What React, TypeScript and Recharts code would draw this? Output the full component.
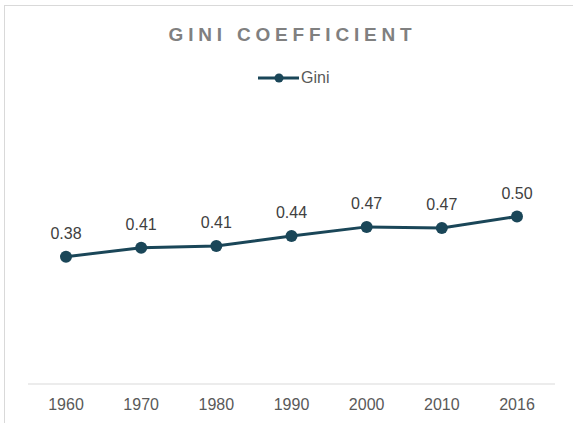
import { LineChart, Line, XAxis, YAxis, Legend, LabelList } from "recharts";

const years = ["1960", "1970", "1980", "1990", "2000", "2010", "2016"];
const gini = [0.38, 0.407, 0.412, 0.442, 0.469, 0.466, 0.5];

const data = years.map((year, i) => ({ year, gini: gini[i] }));

const LINE_COLOR = "#1a4658";
const FONT = "'Liberation Sans', Arial, sans-serif";

function GiniLegend() {
  return (
    <div style={{ display: "flex", alignItems: "center", height: 12 }}>
      <svg width={41} height={12}>
        <line x1={0} y1={6} x2={41} y2={6} stroke={LINE_COLOR} strokeWidth={3} />
        <circle cx={21} cy={6} r={4.5} fill={LINE_COLOR} />
      </svg>
      <span style={{ marginLeft: 2, fontSize: 16, lineHeight: "12px", color: "#595959" }}>Gini</span>
    </div>
  );
}

export default function App() {
  return (
    <div
      style={{
        position: "absolute",
        left: 0,
        top: 0,
        width: 573,
        height: 423,
        overflow: "hidden",
        background: "#fff",
        fontFamily: FONT,
      }}
    >
      {/* chart frame, only top/left edges are visible in the crop */}
      <div
        style={{
          position: "absolute",
          left: 4,
          top: 5,
          width: 620,
          height: 520,
          border: "1px solid #d9d9d9",
        }}
      />
      <div
        style={{
          position: "absolute",
          left: 0,
          top: 25,
          width: 573,
          paddingLeft: 12,
          boxSizing: "border-box",
          textAlign: "center",
          fontSize: 19,
          lineHeight: "19px",
          fontWeight: "bold",
          letterSpacing: 4.8,
          color: "#808080",
        }}
      >
        GINI COEFFICIENT
      </div>
      <div style={{ position: "absolute", left: 0, top: 0 }}>
        <LineChart
          width={573}
          height={423}
          data={data}
          margin={{ top: 183, right: 18, left: 28, bottom: 9 }}
        >
          <XAxis
            dataKey="year"
            height={30}
            padding={{ left: 38, right: 38 }}
            axisLine={{ stroke: "#d9d9d9", strokeWidth: 1 }}
            tickLine={false}
            tickSize={0}
            tickMargin={15}
            tick={{ fill: "#595959", fontSize: 16, fontFamily: FONT }}
          />
          <YAxis hide domain={[0, 0.6]} />
          <Legend
            layout="vertical"
            align="center"
            verticalAlign="middle"
            wrapperStyle={{ top: 72, left: 258, width: "auto" }}
            content={() => <GiniLegend />}
          />
          <Line
            type="linear"
            dataKey="gini"
            name="Gini"
            stroke={LINE_COLOR}
            strokeWidth={3}
            dot={{ r: 6, fill: LINE_COLOR, stroke: LINE_COLOR, strokeWidth: 0 }}
            activeDot={false}
            isAnimationActive={false}
          >
            <LabelList
              dataKey="gini"
              position="top"
              offset={18}
              formatter={(v: number) => v.toFixed(2)}
              style={{ fill: "#404040", fontSize: 16, fontFamily: FONT }}
            />
          </Line>
        </LineChart>
      </div>
    </div>
  );
}
